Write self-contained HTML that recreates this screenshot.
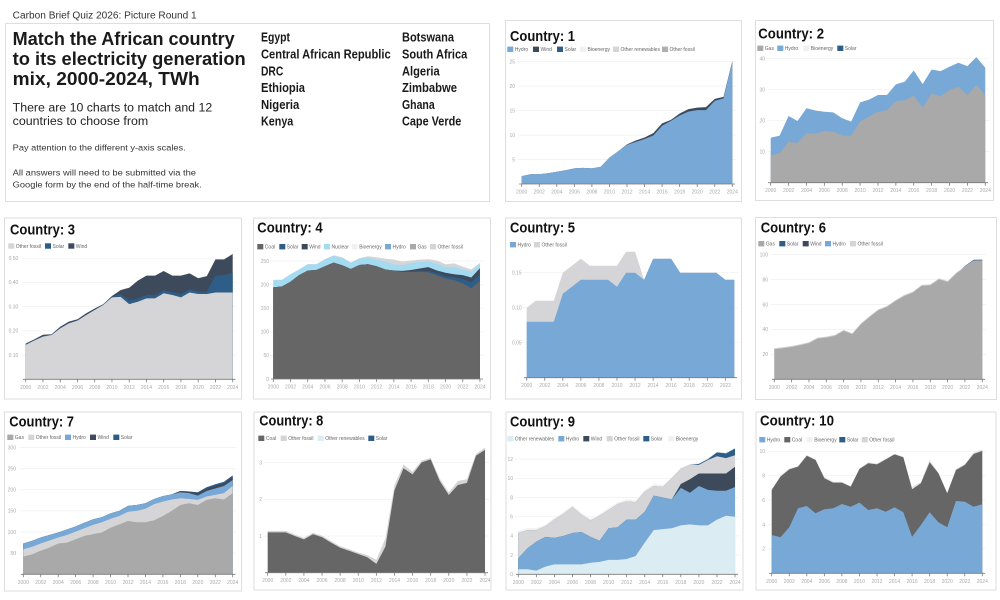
<!DOCTYPE html>
<html><head><meta charset="utf-8">
<style>
html,body{margin:0;padding:0;background:#fff;}
svg{display:block;}
text{font-family:"Liberation Sans",sans-serif;}
.t{font-size:5px;fill:#aaa;}
.tm{font-size:5px;fill:#aaa;text-anchor:middle;}
.te{font-size:5px;fill:#aaa;text-anchor:end;}
.lg{font-size:5px;fill:#666;}
.ct{font-size:15px;font-weight:bold;fill:#111;}
.cn{font-size:12.5px;font-weight:bold;fill:#1a1a1a;}
.pn{fill:#fff;stroke:#dedede;stroke-width:1;}
.gr{stroke:#efefef;stroke-width:0.7;fill:none;}
.ax{stroke:#7a7a7a;stroke-width:0.8;}
</style></head>
<body>
<svg width="1000" height="600" viewBox="0 0 1000 600" xmlns="http://www.w3.org/2000/svg">
<rect width="1000" height="600" fill="#fff"/>

<!-- header -->
<text x="12.7" y="18.3" font-size="10" fill="#333" textLength="184" lengthAdjust="spacingAndGlyphs">Carbon Brief Quiz 2026: Picture Round 1</text>

<!-- text panel -->
<rect class="pn" x="5.5" y="23.5" width="484" height="178"/>
<text x="12.7" y="45" font-size="18" font-weight="bold" fill="#1a1a1a" textLength="222" lengthAdjust="spacingAndGlyphs">Match the African country</text>
<text x="12.7" y="65" font-size="18" font-weight="bold" fill="#1a1a1a" textLength="233" lengthAdjust="spacingAndGlyphs">to its electricity generation</text>
<text x="12.7" y="85" font-size="18" font-weight="bold" fill="#1a1a1a" textLength="187" lengthAdjust="spacingAndGlyphs">mix, 2000-2024, TWh</text>
<text x="12.7" y="111.7" font-size="11.5" fill="#222" textLength="199.5" lengthAdjust="spacingAndGlyphs">There are 10 charts to match and 12</text>
<text x="12.7" y="125.2" font-size="11.5" fill="#222" textLength="135.5" lengthAdjust="spacingAndGlyphs">countries to choose from</text>
<text x="12.7" y="150.7" font-size="8.7" fill="#333" textLength="173" lengthAdjust="spacingAndGlyphs">Pay attention to the different y-axis scales.</text>
<text x="12.7" y="175.7" font-size="8.7" fill="#333" textLength="183.3" lengthAdjust="spacingAndGlyphs">All answers will need to be submitted via the</text>
<text x="12.7" y="187.3" font-size="8.7" fill="#333" textLength="189" lengthAdjust="spacingAndGlyphs">Google form by the end of the half-time break.</text>

<text class="cn" x="261" y="41.7" textLength="29" lengthAdjust="spacingAndGlyphs">Egypt</text>
<text class="cn" x="261" y="58.5" textLength="129.7" lengthAdjust="spacingAndGlyphs">Central African Republic</text>
<text class="cn" x="261" y="75.3" textLength="22.3" lengthAdjust="spacingAndGlyphs">DRC</text>
<text class="cn" x="261" y="92.1" textLength="44" lengthAdjust="spacingAndGlyphs">Ethiopia</text>
<text class="cn" x="261" y="108.9" textLength="38.3" lengthAdjust="spacingAndGlyphs">Nigeria</text>
<text class="cn" x="261" y="125.7" textLength="32.3" lengthAdjust="spacingAndGlyphs">Kenya</text>
<text class="cn" x="402" y="41.7" textLength="52" lengthAdjust="spacingAndGlyphs">Botswana</text>
<text class="cn" x="402" y="58.5" textLength="65.3" lengthAdjust="spacingAndGlyphs">South Africa</text>
<text class="cn" x="402" y="75.3" textLength="37.7" lengthAdjust="spacingAndGlyphs">Algeria</text>
<text class="cn" x="402" y="92.1" textLength="55" lengthAdjust="spacingAndGlyphs">Zimbabwe</text>
<text class="cn" x="402" y="108.9" textLength="32.7" lengthAdjust="spacingAndGlyphs">Ghana</text>
<text class="cn" x="402" y="125.7" textLength="59.3" lengthAdjust="spacingAndGlyphs">Cape Verde</text>

<!-- panels -->
<rect class="pn" x="505.5" y="20.5" width="236" height="181"/>
<rect class="pn" x="755.5" y="20.5" width="238" height="180"/>
<rect class="pn" x="4.5" y="218" width="237" height="181"/>
<rect class="pn" x="253.5" y="218" width="237" height="181"/>
<rect class="pn" x="505.5" y="218" width="236" height="181"/>
<rect class="pn" x="755.5" y="217.5" width="241" height="182"/>
<rect class="pn" x="4.5" y="412" width="237" height="179"/>
<rect class="pn" x="254" y="412" width="237" height="178"/>
<rect class="pn" x="506" y="412" width="237" height="178"/>
<rect class="pn" x="756" y="412" width="240" height="178"/>

<!-- ================= CHART 1 ================= -->
<text class="ct" x="510" y="41" textLength="65" lengthAdjust="spacingAndGlyphs">Country: 1</text>
<rect x="507.3" y="46.6" width="6" height="5.4" fill="#78a8d5"/><text class="lg" x="514.8" y="51.1">Hydro</text>
<rect x="533" y="46.6" width="6" height="5.4" fill="#3d4a5b"/><text class="lg" x="540.5" y="51.1">Wind</text>
<rect x="557" y="46.6" width="6" height="5.4" fill="#2e5d87"/><text class="lg" x="564.5" y="51.1">Solar</text>
<rect x="580" y="46.6" width="6" height="5.4" fill="#f1f1f1"/><text class="lg" x="587.5" y="51.1">Bioenergy</text>
<rect x="613" y="46.6" width="6" height="5.4" fill="#d6d6d6"/><text class="lg" x="620.5" y="51.1">Other renewables</text>
<rect x="662" y="46.6" width="6" height="5.4" fill="#b0b0b0"/><text class="lg" x="669.5" y="51.1">Other fossil</text>
<path class="gr" d="M518 159.5H736M518 135.1H736M518 110.6H736M518 86.1H736M518 61.7H736"/>
<text class="te" x="515" y="161.3">5</text><text class="te" x="515" y="136.9">10</text><text class="te" x="515" y="112.4">15</text><text class="te" x="515" y="87.9">20</text><text class="te" x="515" y="63.5">25</text>
<g transform="translate(521.7,184) scale(8.775,-4.893)">
<polygon fill="#3d4a5b" points="0,0 0,1.6 1,2 2,2 3,2.2 4,2.5 5,2.8 6,3.2 7,3.3 8,3.2 9,3.5 10,5.4 11,6.7 12,8.1 13,8.9 14,9.5 15,10.4 16,12.4 17,13.1 18,14.4 19,15.3 20,15.6 21,15.7 22,17.4 23,17.8 24,25.1 24,0"/>
<polygon fill="#78a8d5" points="0,0 0,1.6 1,2 2,2 3,2.2 4,2.5 5,2.8 6,3.2 7,3.3 8,3.2 9,3.5 10,5.4 11,6.7 12,8 13,8.6 14,9.2 15,9.9 16,11.9 17,12.9 18,14 19,14.8 20,15.1 21,15.1 22,17 23,17.5 24,25 24,0"/>
</g>
<line class="ax" x1="519" x2="735" y1="184" y2="184"/>
<line x1="521.3" x2="733" y1="185.5" y2="185.5" stroke="#7a7a7a" stroke-width="3" stroke-dasharray="0.8 16.75"/>
<text class="tm" x="521.7" y="193.5">2000</text><text class="tm" x="539.25" y="193.5">2002</text><text class="tm" x="556.8" y="193.5">2004</text><text class="tm" x="574.35" y="193.5">2006</text><text class="tm" x="591.9" y="193.5">2008</text><text class="tm" x="609.45" y="193.5">2010</text><text class="tm" x="627" y="193.5">2012</text><text class="tm" x="644.55" y="193.5">2014</text><text class="tm" x="662.1" y="193.5">2016</text><text class="tm" x="679.65" y="193.5">2018</text><text class="tm" x="697.2" y="193.5">2020</text><text class="tm" x="714.75" y="193.5">2022</text><text class="tm" x="732.3" y="193.5">2024</text>

<!-- ================= CHART 2 ================= -->
<text class="ct" x="758.3" y="38.3" textLength="65.7" lengthAdjust="spacingAndGlyphs">Country: 2</text>
<rect x="757.3" y="45.6" width="6" height="5.4" fill="#a9a9a9"/><text class="lg" x="764.8" y="50.1">Gas</text>
<rect x="777.3" y="45.6" width="6" height="5.4" fill="#78a8d5"/><text class="lg" x="784.8" y="50.1">Hydro</text>
<rect x="803.3" y="45.6" width="6" height="5.4" fill="#f1f1f1"/><text class="lg" x="810.8" y="50.1">Bioenergy</text>
<rect x="837.3" y="45.6" width="6" height="5.4" fill="#2e5d87"/><text class="lg" x="844.8" y="50.1">Solar</text>
<path class="gr" d="M767 151.7H989M767 120.7H989M767 89.7H989M767 58.7H989"/>
<text class="te" x="765" y="153.5">10</text><text class="te" x="765" y="122.5">20</text><text class="te" x="765" y="91.5">30</text><text class="te" x="765" y="60.5">40</text>
<g transform="translate(770.7,182.7) scale(8.94,-3.1)">
<polygon fill="#78a8d5" points="0,0 0,14.5 1,15.2 2,21.5 3,19.9 4,24 5,23.3 6,22.9 7,22.7 8,20.8 9,19.7 10,25.9 11,26.8 12,28.3 13,28.3 14,31.7 15,32.6 16,36.2 17,31.8 18,36.5 19,36 20,37.4 21,38.7 22,37.6 23,40.5 24,37.1 24,0"/>
<polygon fill="#a9a9a9" points="0,0 0,8.9 1,9.5 2,13.2 3,12.8 4,16 5,15.8 6,16.7 7,16.5 8,15.2 9,15.2 10,19.7 11,21.3 12,22.9 13,23.4 14,26.3 15,26.6 16,28.1 17,24.2 18,28.8 19,27.8 20,29.9 21,31 22,28.3 23,31.5 24,28.3 24,0"/>
</g>
<line class="ax" x1="768" x2="988" y1="182.7" y2="182.7"/>
<line x1="770.3" x2="986" y1="184.2" y2="184.2" stroke="#7a7a7a" stroke-width="3" stroke-dasharray="0.8 17.08"/>
<text class="tm" x="770.7" y="192.2">2000</text><text class="tm" x="788.6" y="192.2">2002</text><text class="tm" x="806.5" y="192.2">2004</text><text class="tm" x="824.3" y="192.2">2006</text><text class="tm" x="842.2" y="192.2">2008</text><text class="tm" x="860.1" y="192.2">2010</text><text class="tm" x="878" y="192.2">2012</text><text class="tm" x="895.9" y="192.2">2014</text><text class="tm" x="913.7" y="192.2">2016</text><text class="tm" x="931.6" y="192.2">2018</text><text class="tm" x="949.5" y="192.2">2020</text><text class="tm" x="967.4" y="192.2">2022</text><text class="tm" x="985.3" y="192.2">2024</text>

<!-- ================= CHART 3 ================= -->
<text class="ct" x="10" y="234.3" textLength="65" lengthAdjust="spacingAndGlyphs">Country: 3</text>
<rect x="8.3" y="243.3" width="6" height="5.4" fill="#d5d5d7"/><text class="lg" x="15.8" y="247.8">Other fossil</text>
<rect x="45" y="243.3" width="6" height="5.4" fill="#2e5d87"/><text class="lg" x="52.5" y="247.8">Solar</text>
<rect x="68.3" y="243.3" width="6" height="5.4" fill="#3d4a5b"/><text class="lg" x="75.8" y="247.8">Wind</text>
<path class="gr" d="M22 355.1H236M22 330.8H236M22 306.6H236M22 282.4H236M22 258.2H236"/>
<text class="te" x="18.3" y="356.9">0.10</text><text class="te" x="18.3" y="332.6">0.20</text><text class="te" x="18.3" y="308.4">0.30</text><text class="te" x="18.3" y="284.2">0.40</text><text class="te" x="18.3" y="260">0.50</text>
<g transform="translate(25.7,379.3) scale(8.625,-2.423)">
<polygon fill="#3d4a5b" points="0,0 0,14.8 1,16.5 2,18.4 3,18.6 4,21.7 5,23.8 6,24.8 7,27.2 8,29.2 9,31 10,34.4 11,36.8 12,37.8 13,40.7 14,42.8 15,42.8 16,44.7 17,42.8 18,42.8 19,43.7 20,41.7 21,42.6 22,49.5 23,49.5 24,51.7 24,0"/>
<polygon fill="#2e5d87" points="0,0 0,14.4 1,16.2 2,17.8 3,18.5 4,21.2 5,23.3 6,24.4 7,26.7 8,28.8 9,30.9 10,34 11,35.2 12,32.5 13,33.4 14,34.8 15,34.8 16,36.8 17,36 18,35.2 19,37.1 20,36.2 21,36.2 22,42.8 23,43 24,44 24,0"/>
<polygon fill="#d5d5d7" points="0,0 0,14.2 1,16 2,17.6 3,18.3 4,21 5,23.1 6,24.2 7,26.5 8,28.6 9,30.7 10,33.8 11,34 12,31 13,32 14,33.4 15,33.4 16,35.5 17,34.8 18,33.8 19,35.8 20,35.2 21,35.2 22,35.8 23,35.8 24,35.8 24,0"/>
</g>
<line class="ax" x1="23" x2="235.5" y1="379.3" y2="379.3"/>
<line x1="25.3" x2="234" y1="380.8" y2="380.8" stroke="#7a7a7a" stroke-width="3" stroke-dasharray="0.8 16.45"/>
<text class="tm" x="25.7" y="388.8">2000</text><text class="tm" x="42.95" y="388.8">2002</text><text class="tm" x="60.2" y="388.8">2004</text><text class="tm" x="77.45" y="388.8">2006</text><text class="tm" x="94.7" y="388.8">2008</text><text class="tm" x="111.95" y="388.8">2010</text><text class="tm" x="129.2" y="388.8">2012</text><text class="tm" x="146.45" y="388.8">2014</text><text class="tm" x="163.7" y="388.8">2016</text><text class="tm" x="180.95" y="388.8">2018</text><text class="tm" x="198.2" y="388.8">2020</text><text class="tm" x="215.45" y="388.8">2022</text><text class="tm" x="232.7" y="388.8">2024</text>

<!-- ================= CHART 4 ================= -->
<text class="ct" x="257.3" y="232.7" textLength="65.3" lengthAdjust="spacingAndGlyphs">Country: 4</text>
<rect x="257.3" y="244" width="6" height="5.4" fill="#666"/><text class="lg" x="264.8" y="248.5">Coal</text>
<rect x="279.3" y="244" width="6" height="5.4" fill="#2e5d87"/><text class="lg" x="286.8" y="248.5">Solar</text>
<rect x="301.7" y="244" width="6" height="5.4" fill="#3d4a5b"/><text class="lg" x="309.2" y="248.5">Wind</text>
<rect x="324" y="244" width="6" height="5.4" fill="#a5dbf1"/><text class="lg" x="331.5" y="248.5">Nuclear</text>
<rect x="351.7" y="244" width="6" height="5.4" fill="#f1f1f1"/><text class="lg" x="359.2" y="248.5">Bioenergy</text>
<rect x="385" y="244" width="6" height="5.4" fill="#78a8d5"/><text class="lg" x="392.5" y="248.5">Hydro</text>
<rect x="410" y="244" width="6" height="5.4" fill="#a9a9a9"/><text class="lg" x="417.5" y="248.5">Gas</text>
<rect x="430" y="244" width="6" height="5.4" fill="#d5d5d7"/><text class="lg" x="437.5" y="248.5">Other fossil</text>
<path class="gr" d="M270 355.4H484M270 331.8H484M270 308.2H484M270 284.6H484M270 261H484"/>
<text class="te" x="269" y="380.8">0</text><text class="te" x="269" y="357.2">50</text><text class="te" x="269" y="333.6">100</text><text class="te" x="269" y="310">150</text><text class="te" x="269" y="286.4">200</text><text class="te" x="269" y="262.8">250</text>
<g transform="translate(273.3,379) scale(8.61,-0.472)">
<polygon fill="#d5d5d7" points="0,0 0,210 1,210 2,222 3,232 4,243 5,243 6,254 7,262 8,258 9,247 10,256 11,260 12,258 13,255 14,253 15,249 16,251 17,253 18,254 19,251 20,243 21,245 22,238 23,232 24,246 24,0"/>
<polygon fill="#a5dbf1" points="0,0 0,210 1,210 2,222 3,232 4,243 5,243 6,253 7,261 8,257 9,246 10,255 11,257 12,253 13,249 14,243 15,241 16,246 17,248 18,250 19,244 20,237 21,238 22,232 23,228 24,245 24,0"/>
<polygon fill="#3d4a5b" points="0,0 0,194 1,196 2,206 3,220 4,229.5 5,231 6,239 7,246.5 8,241 9,233 10,241.5 11,243 12,239 13,232 14,230 15,229 16,231 17,234 18,237 19,230 20,225 21,222 22,220 23,215 24,235 24,0"/>
<polygon fill="#2e5d87" points="0,0 0,194 1,196 2,206 3,220 4,229.5 5,231 6,239 7,246.5 8,241 9,233 10,241.5 11,243 12,239 13,232 14,229.5 15,227.5 16,228 17,229 18,230 19,224 20,218 21,216 22,212 23,205 24,222 24,0"/>
<polygon fill="#666666" points="0,0 0,194 1,196 2,206 3,220 4,229.5 5,231 6,239 7,246.5 8,241 9,233 10,241.5 11,243 12,239 13,232 14,229.5 15,227 16,227 17,227 18,226 19,219.6 20,213 21,209.7 22,202.7 23,192 24,207.6 24,0"/>
</g>
<line class="ax" x1="271" x2="483" y1="379" y2="379"/>
<line x1="272.9" x2="481" y1="380.5" y2="380.5" stroke="#7a7a7a" stroke-width="3" stroke-dasharray="0.8 16.42"/>
<text class="tm" x="273.3" y="388.5">2000</text><text class="tm" x="290.5" y="388.5">2002</text><text class="tm" x="307.7" y="388.5">2004</text><text class="tm" x="325" y="388.5">2006</text><text class="tm" x="342.2" y="388.5">2008</text><text class="tm" x="359.4" y="388.5">2010</text><text class="tm" x="376.6" y="388.5">2012</text><text class="tm" x="393.9" y="388.5">2014</text><text class="tm" x="411.1" y="388.5">2016</text><text class="tm" x="428.3" y="388.5">2018</text><text class="tm" x="445.5" y="388.5">2020</text><text class="tm" x="462.8" y="388.5">2022</text><text class="tm" x="480" y="388.5">2024</text>

<!-- ================= CHART 5 ================= -->
<text class="ct" x="510" y="232.7" textLength="65" lengthAdjust="spacingAndGlyphs">Country: 5</text>
<rect x="510" y="242" width="6" height="5.4" fill="#78a8d5"/><text class="lg" x="517.5" y="246.5">Hydro</text>
<rect x="534" y="242" width="6" height="5.4" fill="#d5d5d7"/><text class="lg" x="541.5" y="246.5">Other fossil</text>
<path class="gr" d="M523 342.7H738M523 307.7H738M523 272.7H738"/>
<text class="te" x="521.7" y="344.5">0.05</text><text class="te" x="521.7" y="309.5">0.10</text><text class="te" x="521.7" y="274.5">0.15</text>
<g transform="translate(526.7,377.7) scale(9.03,-7)">
<polygon fill="#d5d5d7" points="0,0 0,10 1,11 2,11 3,11 4,15 5,16 6,17 7,16 8,16 9,16 10,16 11,18 12,18 13,14 14,17 15,17 16,17 17,15 18,15 19,15 20,15 21,15 22,14 23,14 23,0"/>
<polygon fill="#78a8d5" points="0,0 0,8 1,8 2,8 3,8 4,12 5,13 6,14 7,14 8,14 9,14 10,13 11,15 12,15 13,14 14,17 15,17 16,17 17,15 18,15 19,15 20,15 21,15 22,14 23,14 23,0"/>
</g>
<line class="ax" x1="524" x2="737" y1="377.7" y2="377.7"/>
<line x1="526.3" x2="727" y1="379.2" y2="379.2" stroke="#7a7a7a" stroke-width="3" stroke-dasharray="0.8 17.26"/>
<text class="tm" x="526.7" y="387.2">2000</text><text class="tm" x="544.8" y="387.2">2002</text><text class="tm" x="562.8" y="387.2">2004</text><text class="tm" x="580.9" y="387.2">2006</text><text class="tm" x="598.9" y="387.2">2008</text><text class="tm" x="617" y="387.2">2010</text><text class="tm" x="635.1" y="387.2">2012</text><text class="tm" x="653.1" y="387.2">2014</text><text class="tm" x="671.2" y="387.2">2016</text><text class="tm" x="689.2" y="387.2">2018</text><text class="tm" x="707.3" y="387.2">2020</text><text class="tm" x="725.4" y="387.2">2022</text>

<!-- ================= CHART 6 ================= -->
<text class="ct" x="760.7" y="232.7" textLength="65.3" lengthAdjust="spacingAndGlyphs">Country: 6</text>
<rect x="758.3" y="241" width="6" height="5.4" fill="#a9a9a9"/><text class="lg" x="765.8" y="245.5">Gas</text>
<rect x="779.3" y="241" width="6" height="5.4" fill="#2e5d87"/><text class="lg" x="786.8" y="245.5">Solar</text>
<rect x="802.7" y="241" width="6" height="5.4" fill="#3d4a5b"/><text class="lg" x="810.2" y="245.5">Wind</text>
<rect x="825" y="241" width="6" height="5.4" fill="#78a8d5"/><text class="lg" x="832.5" y="245.5">Hydro</text>
<rect x="850" y="241" width="6" height="5.4" fill="#d5d5d7"/><text class="lg" x="857.5" y="245.5">Other fossil</text>
<path class="gr" d="M771 354.4H986M771 329.4H986M771 304.5H986M771 279.6H986M771 254.6H986"/>
<text class="te" x="768" y="356.2">20</text><text class="te" x="768" y="331.2">40</text><text class="te" x="768" y="306.3">60</text><text class="te" x="768" y="281.4">80</text><text class="te" x="768" y="256.4">100</text>
<g transform="translate(774.3,379.3) scale(8.667,-1.2465)">
<polygon fill="#3d5f85" points="21,0 21,85 22,90.9 23,95.9 24,96 24,0"/>
<polygon fill="#cdcdcd" points="0,0 0,24.9 1,25.7 2,26.7 3,28.1 4,29.7 5,33.4 6,34.2 7,35.6 8,39.6 9,36.9 10,44.9 11,50.8 12,56.1 13,58.8 14,63.6 15,67.6 16,70.3 17,75.7 18,76.2 19,81 20,78.9 21,85.6 22,90.5 23,95.2 24,95.3 24,0"/>
<polygon fill="#a9a9a9" points="0,0 0,24.1 1,24.9 2,25.9 3,27.3 4,28.9 5,32.6 6,33.4 7,34.8 8,38.8 9,36.1 10,44.1 11,50 12,55.3 13,58 14,62.8 15,66.8 16,69.5 17,74.9 18,75.4 19,80.2 20,78.1 21,84.8 22,90.1 23,94.9 24,94.9 24,0"/>
</g>
<line class="ax" x1="772" x2="985" y1="379.3" y2="379.3"/>
<line x1="773.9" x2="983.5" y1="380.8" y2="380.8" stroke="#7a7a7a" stroke-width="3" stroke-dasharray="0.8 16.53"/>
<text class="tm" x="774.3" y="388.8">2000</text><text class="tm" x="791.6" y="388.8">2002</text><text class="tm" x="809" y="388.8">2004</text><text class="tm" x="826.3" y="388.8">2006</text><text class="tm" x="843.6" y="388.8">2008</text><text class="tm" x="861" y="388.8">2010</text><text class="tm" x="878.3" y="388.8">2012</text><text class="tm" x="895.6" y="388.8">2014</text><text class="tm" x="912.9" y="388.8">2016</text><text class="tm" x="930.3" y="388.8">2018</text><text class="tm" x="947.6" y="388.8">2020</text><text class="tm" x="964.9" y="388.8">2022</text><text class="tm" x="982.3" y="388.8">2024</text>

<!-- ================= CHART 7 ================= -->
<text class="ct" x="9.3" y="426.7" textLength="64.7" lengthAdjust="spacingAndGlyphs">Country: 7</text>
<rect x="7.3" y="434.6" width="6" height="5.4" fill="#a9a9a9"/><text class="lg" x="14.8" y="439.1">Gas</text>
<rect x="28.3" y="434.6" width="6" height="5.4" fill="#d5d5d7"/><text class="lg" x="35.8" y="439.1">Other fossil</text>
<rect x="65" y="434.6" width="6" height="5.4" fill="#78a8d5"/><text class="lg" x="72.5" y="439.1">Hydro</text>
<rect x="90" y="434.6" width="6" height="5.4" fill="#3d4a5b"/><text class="lg" x="97.5" y="439.1">Wind</text>
<rect x="113.3" y="434.6" width="6" height="5.4" fill="#2e5d87"/><text class="lg" x="120.8" y="439.1">Solar</text>
<path class="gr" d="M20 553.2H236M20 532H236M20 510.9H236M20 489.8H236M20 468.6H236M20 447.5H236"/>
<text class="te" x="16" y="555">50</text><text class="te" x="16" y="533.8">100</text><text class="te" x="16" y="512.7">150</text><text class="te" x="16" y="491.6">200</text><text class="te" x="16" y="470.4">250</text><text class="te" x="16" y="449.3">300</text>
<g transform="translate(23.3,574.3) scale(8.725,-0.4227)">
<polygon fill="#2e5d87" points="0,0 0,73 1,79 2,87 3,93 4,99 5,106 6,113 7,122 8,130 9,135 10,144 11,150 12,162 13,164 14,168 15,178 16,185 17,189 18,197 19,196 20,194 21,206 22,213 23,219 24,234 24,0"/>
<polygon fill="#3d4a5b" points="0,0 0,73 1,79 2,87 3,93 4,99 5,106 6,113 7,122 8,130 9,135 10,144 11,150 12,162 13,164 14,168 15,178 16,185 17,189 18,197 19,196 20,192 21,203 22,210 23,215 24,231 24,0"/>
<polygon fill="#78a8d5" points="0,0 0,73 1,79 2,87 3,93 4,99 5,106 6,113 7,122 8,130 9,135 10,144 11,150 12,162 13,164 14,168 15,178 16,185 17,189 18,194 19,192 20,186 21,197 22,203 23,209 24,223 24,0"/>
<polygon fill="#d5d5d7" points="0,0 0,59 1,65 2,73 3,80 4,87 5,93 6,101 7,109 8,117 9,123 10,131 11,138 12,148 13,150 14,155 15,166 16,172 17,177 18,180 19,178 20,176 21,184 22,188 23,192 24,209 24,0"/>
<polygon fill="#a9a9a9" points="0,0 0,42 1,47 2,56 3,63 4,73 5,75 6,83 7,91 8,95 9,99 10,110 11,118 12,126 13,123 14,123 15,128 16,138 17,150 18,164 19,168 20,164 21,176 22,180 23,177 24,192 24,0"/>
</g>
<line class="ax" x1="21" x2="235.5" y1="574.3" y2="574.3"/>
<line x1="22.9" x2="234" y1="575.8" y2="575.8" stroke="#7a7a7a" stroke-width="3" stroke-dasharray="0.8 16.65"/>
<text class="tm" x="23.3" y="583.8">2000</text><text class="tm" x="40.75" y="583.8">2002</text><text class="tm" x="58.2" y="583.8">2004</text><text class="tm" x="75.65" y="583.8">2006</text><text class="tm" x="93.1" y="583.8">2008</text><text class="tm" x="110.55" y="583.8">2010</text><text class="tm" x="128" y="583.8">2012</text><text class="tm" x="145.45" y="583.8">2014</text><text class="tm" x="162.9" y="583.8">2016</text><text class="tm" x="180.35" y="583.8">2018</text><text class="tm" x="197.8" y="583.8">2020</text><text class="tm" x="215.25" y="583.8">2022</text><text class="tm" x="232.7" y="583.8">2024</text>

<!-- ================= CHART 8 ================= -->
<text class="ct" x="259.3" y="425.7" textLength="64" lengthAdjust="spacingAndGlyphs">Country: 8</text>
<rect x="258.3" y="435.6" width="6" height="5.4" fill="#666"/><text class="lg" x="265.8" y="440.1">Coal</text>
<rect x="280.7" y="435.6" width="6" height="5.4" fill="#d5d5d7"/><text class="lg" x="288.2" y="440.1">Other fossil</text>
<rect x="317.7" y="435.6" width="6" height="5.4" fill="#dbecf3"/><text class="lg" x="325.2" y="440.1">Other renewables</text>
<rect x="368.3" y="435.6" width="6" height="5.4" fill="#2e5d87"/><text class="lg" x="375.8" y="440.1">Solar</text>
<path class="gr" d="M264 536H489M264 499.4H489M264 462.7H489"/>
<text class="te" x="262" y="537.8">1</text><text class="te" x="262" y="501.2">2</text><text class="te" x="262" y="464.5">3</text>
<g transform="translate(267.7,572.7) scale(9.055,-36.67)">
<polygon fill="#d5d5d7" points="0,0 0,1.14 1,1.14 2,1.14 3,1.04 4,0.95 5,1.09 6,1.01 7,0.86 8,0.72 9,0.64 10,0.55 11,0.48 12,0.35 13,0.94 14,2.39 15,2.95 16,2.75 17,3.06 18,3.13 19,2.57 20,2.19 21,2.5 22,2.55 23,3.24 24,3.41 24,0"/>
<polygon fill="#666666" points="0,0 0,1.1 1,1.1 2,1.1 3,1 4,0.91 5,1.05 6,0.97 7,0.82 8,0.68 9,0.6 10,0.51 11,0.42 12,0.24 13,0.71 14,2.25 15,2.85 16,2.68 17,3.01 18,3.09 19,2.5 20,2.12 21,2.39 22,2.45 23,3.19 24,3.35 24,0"/>
</g>
<line class="ax" x1="265" x2="488" y1="572.7" y2="572.7"/>
<line x1="267.3" x2="486" y1="574.2" y2="574.2" stroke="#7a7a7a" stroke-width="3" stroke-dasharray="0.8 17.31"/>
<text class="tm" x="267.7" y="582.2">2000</text><text class="tm" x="285.8" y="582.2">2002</text><text class="tm" x="303.9" y="582.2">2004</text><text class="tm" x="322" y="582.2">2006</text><text class="tm" x="340.1" y="582.2">2008</text><text class="tm" x="358.3" y="582.2">2010</text><text class="tm" x="376.4" y="582.2">2012</text><text class="tm" x="394.5" y="582.2">2014</text><text class="tm" x="412.6" y="582.2">2016</text><text class="tm" x="430.7" y="582.2">2018</text><text class="tm" x="448.8" y="582.2">2020</text><text class="tm" x="466.9" y="582.2">2022</text><text class="tm" x="485" y="582.2">2024</text>

<!-- ================= CHART 9 ================= -->
<text class="ct" x="510" y="426.7" textLength="65" lengthAdjust="spacingAndGlyphs">Country: 9</text>
<rect x="507.3" y="436" width="6" height="5.4" fill="#dbecf3"/><text class="lg" x="514.8" y="440.5">Other renewables</text>
<rect x="558.3" y="436" width="6" height="5.4" fill="#78a8d5"/><text class="lg" x="565.8" y="440.5">Hydro</text>
<rect x="583.3" y="436" width="6" height="5.4" fill="#3d4a5b"/><text class="lg" x="590.8" y="440.5">Wind</text>
<rect x="606.7" y="436" width="6" height="5.4" fill="#d5d5d7"/><text class="lg" x="614.2" y="440.5">Other fossil</text>
<rect x="643.3" y="436" width="6" height="5.4" fill="#2e5d87"/><text class="lg" x="650.8" y="440.5">Solar</text>
<rect x="668.3" y="436" width="6" height="5.4" fill="#f1f1f1"/><text class="lg" x="675.8" y="440.5">Bioenergy</text>
<path class="gr" d="M515 555.1H739M515 535.9H739M515 516.7H739M515 497.5H739M515 478.3H739M515 459.1H739"/>
<text class="te" x="513" y="576.1">0</text><text class="te" x="513" y="556.9">2</text><text class="te" x="513" y="537.7">4</text><text class="te" x="513" y="518.5">6</text><text class="te" x="513" y="499.3">8</text><text class="te" x="513" y="480.1">10</text><text class="te" x="513" y="460.9">12</text>
<g transform="translate(518.3,574.3) scale(9.03,-9.6)">
<polygon fill="#f1f1f1" points="0,0 0,4.5 1,4.8 2,4.8 3,5.2 4,5.9 5,6.5 6,7.2 7,6.4 8,5.8 9,6.3 10,6.9 11,7.5 12,7.8 13,7.7 14,8.8 15,9.4 16,9.3 17,10.1 18,11.1 19,11.5 20,11.6 21,12.1 22,12.8 23,12.7 24,13.2 24,0"/>
<polygon fill="#2e5d87" points="0,0 0,4.3 1,4.6 2,4.6 3,5 4,5.7 5,6.3 6,7 7,6.2 8,5.6 9,6.1 10,6.7 11,7.3 12,7.6 13,7.5 14,8.6 15,9.2 16,9.1 17,10 18,11 19,11.4 20,11.5 21,12 22,12.7 23,12.6 24,13.1 24,0"/>
<polygon fill="#d5d5d7" points="0,0 0,4.3 1,4.6 2,4.6 3,5 4,5.7 5,6.3 6,7 7,6.2 8,5.6 9,6.1 10,6.7 11,7.3 12,7.6 13,7.5 14,8.6 15,9.2 16,9.1 17,10 18,11 19,11.4 20,11.4 21,11.9 22,12.3 23,12.1 24,12.4 24,0"/>
<polygon fill="#3d4a5b" points="0,0 0,1.67 1,2.7 2,3.4 3,3.9 4,3.8 5,4 6,4.3 7,4.4 8,3.9 9,3.5 10,4.8 11,4.9 12,5.7 13,5.7 14,6.5 15,8.2 16,8 17,7.8 18,9.4 19,9.9 20,10.5 21,10.5 22,10.5 23,10.5 24,11.2 24,0"/>
<polygon fill="#78a8d5" points="0,0 0,1.67 1,2.7 2,3.4 3,3.9 4,3.8 5,4 6,4.3 7,4.4 8,3.9 9,3.5 10,4.8 11,4.9 12,5.7 13,5.7 14,6.5 15,8.2 16,8 17,7.8 18,9 19,8.5 20,9.2 21,8.8 22,8.7 23,8.7 24,9.1 24,0"/>
<polygon fill="#dbecf3" points="0,0 0,0.52 1,0.52 2,0.38 3,0.8 4,1.04 5,1.04 6,1.04 7,1.04 8,1.2 9,1.3 10,1.5 11,1.5 12,1.6 13,1.9 14,3.3 15,4.6 16,4.7 17,4.8 18,5.1 19,5.2 20,5.1 21,5.1 22,5.7 23,6.1 24,6 24,0"/>
</g>
<line class="ax" x1="516" x2="738" y1="574.3" y2="574.3"/>
<line x1="517.9" x2="736" y1="575.8" y2="575.8" stroke="#7a7a7a" stroke-width="3" stroke-dasharray="0.8 17.26"/>
<text class="tm" x="518.3" y="583.8">2000</text><text class="tm" x="536.4" y="583.8">2002</text><text class="tm" x="554.4" y="583.8">2004</text><text class="tm" x="572.5" y="583.8">2006</text><text class="tm" x="590.5" y="583.8">2008</text><text class="tm" x="608.6" y="583.8">2010</text><text class="tm" x="626.7" y="583.8">2012</text><text class="tm" x="644.7" y="583.8">2014</text><text class="tm" x="662.8" y="583.8">2016</text><text class="tm" x="680.8" y="583.8">2018</text><text class="tm" x="698.9" y="583.8">2020</text><text class="tm" x="717" y="583.8">2022</text><text class="tm" x="735" y="583.8">2024</text>

<!-- ================= CHART 10 ================= -->
<text class="ct" x="760" y="425.7" textLength="74" lengthAdjust="spacingAndGlyphs">Country: 10</text>
<rect x="759.3" y="437" width="6" height="5.4" fill="#78a8d5"/><text class="lg" x="766.8" y="441.5">Hydro</text>
<rect x="784.3" y="437" width="6" height="5.4" fill="#666"/><text class="lg" x="791.8" y="441.5">Coal</text>
<rect x="806.7" y="437" width="6" height="5.4" fill="#f1f1f1"/><text class="lg" x="814.2" y="441.5">Bioenergy</text>
<rect x="839.3" y="437" width="6" height="5.4" fill="#2e5d87"/><text class="lg" x="846.8" y="441.5">Solar</text>
<rect x="861.7" y="437" width="6" height="5.4" fill="#d5d5d7"/><text class="lg" x="869.2" y="441.5">Other fossil</text>
<path class="gr" d="M768 548.9H986M768 524.5H986M768 500.1H986M768 475.7H986M768 451.3H986"/>
<text class="te" x="765" y="550.7">2</text><text class="te" x="765" y="526.3">4</text><text class="te" x="765" y="501.9">6</text><text class="te" x="765" y="477.5">8</text><text class="te" x="765" y="453.1">10</text>
<g transform="translate(771.7,573.3) scale(8.775,-12.2)">
<polygon fill="#e2e2e2" points="0,0 0,6.9 1,8 2,8.6 3,8.8 4,9.7 5,9.35 6,7.9 7,7.5 8,7.5 9,7.15 10,8.6 11,9.1 12,9 13,9.4 14,9.8 15,9.55 16,7.05 17,7.5 18,9.3 19,8.25 20,6.62 21,8.55 22,8.95 23,9.9 24,10.15 24,0"/>
<polygon fill="#666666" points="0,0 0,6.83 1,7.92 2,8.52 3,8.74 4,9.64 5,9.29 6,7.79 7,7.43 8,7.43 9,7.1 10,8.55 11,9.02 12,8.93 13,9.34 14,9.75 15,9.51 16,6.89 17,7.38 18,9.1 19,8.2 20,6.56 21,8.47 22,8.88 23,9.78 24,10.03 24,0"/>
<polygon fill="#78a8d5" points="0,0 0,3.14 1,2.95 2,3.77 3,5.33 4,5.52 5,4.92 6,5.25 7,5.33 8,5.68 9,5.46 10,5.79 11,5.19 12,5.33 13,5.05 14,5.41 15,5 16,3 17,3.96 18,5 19,4.18 20,3.77 21,5.93 22,5.87 23,5.46 24,5.66 24,0"/>
</g>
<line class="ax" x1="769" x2="985" y1="573.3" y2="573.3"/>
<line x1="771.3" x2="983" y1="574.8" y2="574.8" stroke="#7a7a7a" stroke-width="3" stroke-dasharray="0.8 16.75"/>
<text class="tm" x="771.7" y="582.8">2000</text><text class="tm" x="789.25" y="582.8">2002</text><text class="tm" x="806.8" y="582.8">2004</text><text class="tm" x="824.35" y="582.8">2006</text><text class="tm" x="841.9" y="582.8">2008</text><text class="tm" x="859.45" y="582.8">2010</text><text class="tm" x="877" y="582.8">2012</text><text class="tm" x="894.55" y="582.8">2014</text><text class="tm" x="912.1" y="582.8">2016</text><text class="tm" x="929.65" y="582.8">2018</text><text class="tm" x="947.2" y="582.8">2020</text><text class="tm" x="964.75" y="582.8">2022</text><text class="tm" x="982.3" y="582.8">2024</text>
</svg>
</body></html>
